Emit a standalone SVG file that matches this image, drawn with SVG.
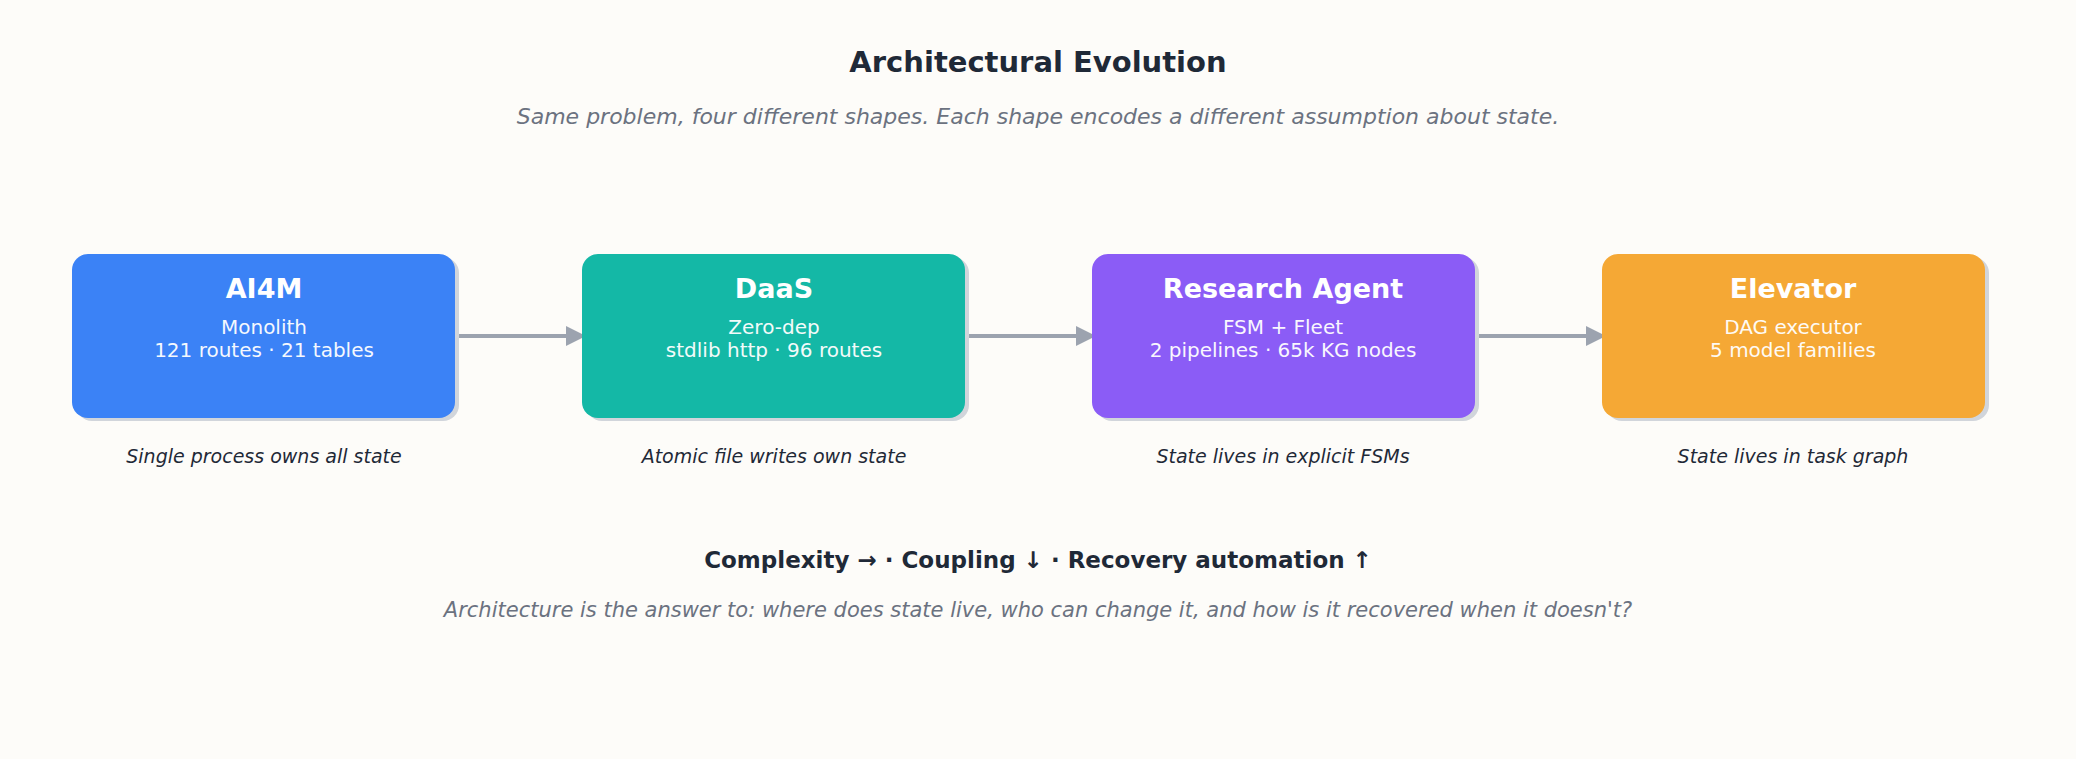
<svg xmlns="http://www.w3.org/2000/svg" width="2076" height="759" viewBox="0 0 2076 759">
<defs>
<marker id="ah" markerWidth="10" markerHeight="10" refX="8" refY="5" orient="auto" markerUnits="userSpaceOnUse"><path d="M0,0 L22,10 L0,20 z" transform="scale(0.5)" fill="#9ca3af"/></marker>
<marker id="a2" viewBox="0 0 10 10" markerWidth="22" markerHeight="20" refX="9" refY="5" orient="auto" markerUnits="userSpaceOnUse"><path d="M0,0 L10,5 L0,10 z" fill="#9ca3af"/></marker>
</defs>
<style>
text{font-family:"DejaVu Sans","Noto Sans",sans-serif;text-anchor:middle}
.sh{fill:#d1d5db}
.t{fill:#fff;font-weight:bold;font-size:27px}
.l{fill:#fff;font-size:20px;opacity:0.95}
.c{fill:#1f2937;font-style:italic;font-size:19px}
.ar{stroke:#9ca3af;stroke-width:4;fill:none;marker-end:url(#a2)}
</style>
<rect width="2076" height="759" fill="#fdfcf9"/>
<text x="1038" y="72" font-size="29" font-weight="bold" fill="#1f2937">Architectural Evolution</text>
<text x="1038" y="124" font-size="22" font-style="italic" fill="#6b7280">Same problem, four different shapes. Each shape encodes a different assumption about state.</text>
<g id="connectors">
<line class="ar" x1="451" y1="336" x2="584" y2="336"/>
<line class="ar" x1="961" y1="336" x2="1094" y2="336"/>
<line class="ar" x1="1471" y1="336" x2="1604" y2="336"/>
</g>
<g id="n1">
<rect class="sh" x="76" y="257" width="383" height="164" rx="16"/>
<rect x="72" y="254" width="383" height="164" rx="16" fill="#3b82f6"/>
<text class="t" x="264" y="298">AI4M</text>
<text class="l" x="264" y="334">Monolith</text>
<text class="l" x="264" y="357">121 routes · 21 tables</text>
<text class="c" x="264" y="463">Single process owns all state</text>
</g>
<g id="n2">
<rect class="sh" x="586" y="257" width="383" height="164" rx="16"/>
<rect x="582" y="254" width="383" height="164" rx="16" fill="#14b8a6"/>
<text class="t" x="774" y="298">DaaS</text>
<text class="l" x="774" y="334">Zero-dep</text>
<text class="l" x="774" y="357">stdlib http · 96 routes</text>
<text class="c" x="774" y="463">Atomic file writes own state</text>
</g>
<g id="n3">
<rect class="sh" x="1096" y="257" width="383" height="164" rx="16"/>
<rect x="1092" y="254" width="383" height="164" rx="16" fill="#8b5cf6"/>
<text class="t" x="1283" y="298">Research Agent</text>
<text class="l" x="1283" y="334">FSM + Fleet</text>
<text class="l" x="1283" y="357">2 pipelines · 65k KG nodes</text>
<text class="c" x="1283" y="463">State lives in explicit FSMs</text>
</g>
<g id="n4">
<rect class="sh" x="1606" y="257" width="383" height="164" rx="16"/>
<rect x="1602" y="254" width="383" height="164" rx="16" fill="#f5a835"/>
<text class="t" x="1793" y="298">Elevator</text>
<text class="l" x="1793" y="334">DAG executor</text>
<text class="l" x="1793" y="357">5 model families</text>
<text class="c" x="1793" y="463">State lives in task graph</text>
</g>
<text x="1038" y="568" font-size="23" font-weight="bold" fill="#1f2937">Complexity → · Coupling ↓ · Recovery automation ↑</text>
<text x="1038" y="617" font-size="21" font-style="italic" fill="#6b7280">Architecture is the answer to: where does state live, who can change it, and how is it recovered when it doesn't?</text>
</svg>
